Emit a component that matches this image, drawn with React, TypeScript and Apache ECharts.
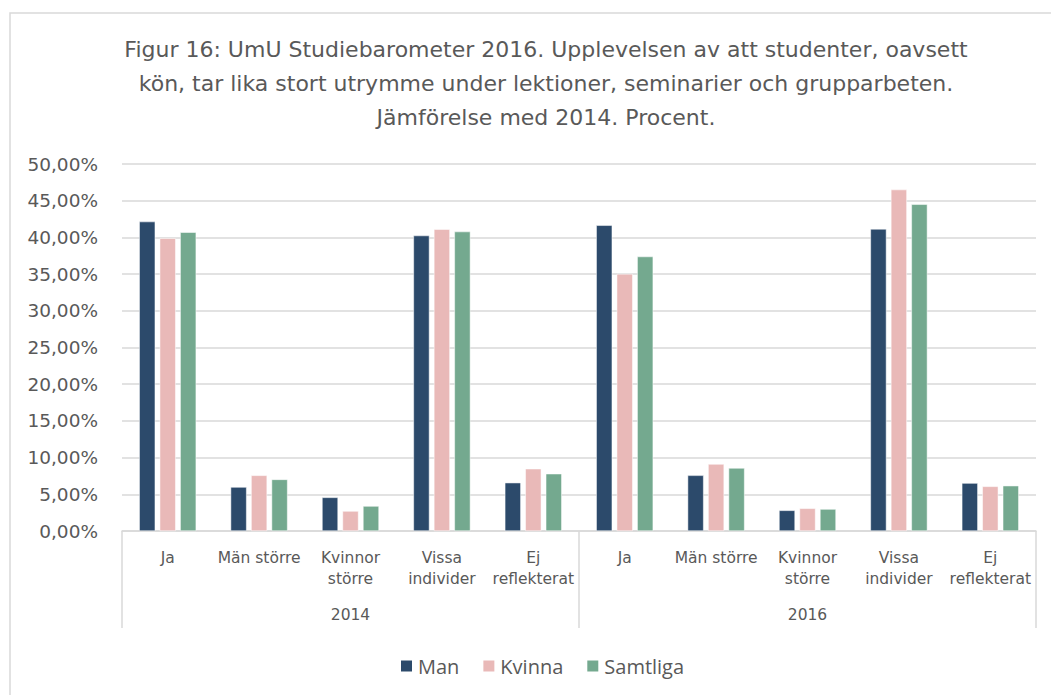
import React, { useEffect, useRef } from "react";
import * as echarts from "echarts";

const categories = [
  "Ja", "Män större", "Kvinnor\nstörre", "Vissa\nindivider", "Ej\nreflekterat",
  "Ja", "Män större", "Kvinnor\nstörre", "Vissa\nindivider", "Ej\nreflekterat",
];
const years = ["2014", "2016"];
const yTicks = [0, 50, 5];

const man = [42.15, 5.99, 4.58, 40.25, 6.58, 41.65, 7.58, 2.81, 41.15, 6.53];
const kvinna = [39.88, 7.58, 2.72, 41.11, 8.48, 35.03, 9.12, 3.09, 46.51, 6.08];
const samtliga = [40.7, 7.03, 3.4, 40.79, 7.8, 37.39, 8.58, 2.99, 44.51, 6.17];

const seriesNames = ["Man", "Kvinna", "Samtliga"];
const colors = ["#2C4A6B", "#E9B9B8", "#74A98F"];

const titleText =
  "Figur 16: UmU Studiebarometer 2016. Upplevelsen av att studenter, oavsett\nkön, tar lika stort utrymme under lektioner, seminarier och grupparbeten.\nJämförelse med 2014. Procent.";

const FONT = "'Open Sans', 'Noto Sans', sans-serif";
const WIDE = "'DejaVu Sans', sans-serif";
const GREY = "#595959";
const LINE = "#d9d9d9";

export default function App() {
  const ref = useRef<HTMLDivElement>(null);
  useEffect(() => {
    if (!ref.current) return;
    const chart = echarts.init(ref.current, undefined, { renderer: "svg" });
    const data = [man, kvinna, samtliga];
    chart.setOption({
      animation: false,
      backgroundColor: "#fff",
      textStyle: { fontFamily: FONT },
      graphic: [
        {
          type: "rect",
          shape: { x: 10, y: 13, width: 1100, height: 800 },
          style: { fill: "none", stroke: LINE, lineWidth: 1.5 },
          silent: true,
        },
        {
          type: "text",
          x: 546,
          y: 32,
          style: {
            text: titleText,
            textAlign: "center",
            textVerticalAlign: "top",
            fontSize: 22,
            lineHeight: 34,
            fontFamily: WIDE,
            fill: GREY,
          },
        },
      ],
      legend: {
        data: seriesNames,
        left: 394,
        top: 651,
        icon: "rect",
        itemWidth: 13,
        itemHeight: 13,
        itemGap: 22,
        textStyle: { fontSize: 20, color: GREY, fontFamily: FONT },
      },
      grid: { left: 122, right: 15, top: 164, height: 367 },
      xAxis: [
        {
          type: "category",
          data: categories,
          position: "bottom",
          axisLine: { lineStyle: { color: LINE, width: 1.5 } },
          axisTick: { show: false },
          axisLabel: {
            interval: 0,
            fontSize: 15.5,
            lineHeight: 21,
            color: GREY,
            margin: 16,
            fontFamily: WIDE,
          },
        },
        {
          type: "category",
          data: years,
          position: "bottom",
          axisLine: { show: false },
          axisTick: {
            show: true,
            length: 97,
            interval: 0,
            lineStyle: { color: LINE, width: 1.5 },
          },
          axisLabel: {
            interval: 0,
            fontSize: 15.5,
            color: GREY,
            margin: 76,
            fontFamily: WIDE,
          },
          splitLine: { show: false },
        },
      ],
      yAxis: {
        type: "value",
        min: yTicks[0],
        max: yTicks[1],
        interval: yTicks[2],
        axisLine: { show: false },
        axisTick: { show: false },
        splitLine: { lineStyle: { color: LINE, width: 1.5 } },
        axisLabel: {
          fontSize: 18.5,
          color: GREY,
          margin: 24,
          fontFamily: WIDE,
          formatter: (v: number) => v.toFixed(2).replace(".", ",") + "%",
        },
      },
      series: seriesNames.map((name, i) => ({
        name,
        type: "bar",
        xAxisIndex: 0,
        data: data[i],
        barWidth: 16,
        barGap: "28%",
        itemStyle: { color: colors[i], borderColor: "#fff", borderWidth: 0.5 },
      })),
    });
    return () => chart.dispose();
  }, []);
  return (
    <div
      ref={ref}
      style={{ position: "fixed", left: 0, top: 0, width: 1051, height: 695 }}
    />
  );
}
